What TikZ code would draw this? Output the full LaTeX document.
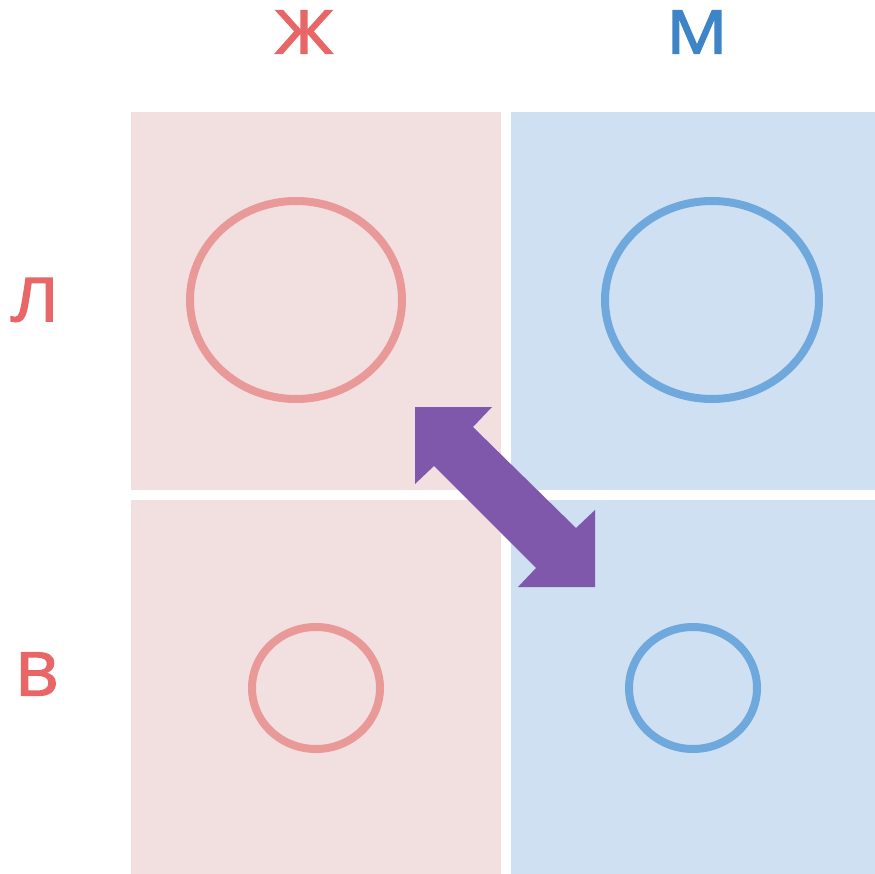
\documentclass[tikz,border=0pt]{standalone}
\usepackage{fontspec}
\setmainfont{Open Sans}
\newfontfamily\lblfont[FakeBold=2.6]{Open Sans}
\definecolor{pinkfill}{HTML}{F2E0E1}
\definecolor{bluefill}{HTML}{CFE0F2}
\definecolor{pinkline}{HTML}{EA9999}
\definecolor{blueline}{HTML}{6FA8DC}
\definecolor{redtext}{HTML}{E86666}
\definecolor{bluetext}{HTML}{3D85C6}
\definecolor{purplearrow}{HTML}{7F58AC}
\tikzset{
  cell/.style={draw=none},
  ring/.style={line width=8pt},
  lbl/.style={font=\lblfont\fontsize{60}{60}\selectfont, inner sep=0pt, anchor=center, xscale=1.12},
}
\begin{document}
\begin{tikzpicture}[x=1pt,y=-1pt]
\useasboundingbox (0,0) rectangle (875,874);
\fill[white] (0,0) rectangle (875,874);
% cells
\fill[pinkfill] (131,112) rectangle (501,490);
\fill[bluefill] (511,112) rectangle (875,490);
\fill[pinkfill] (131,500) rectangle (501,874);
\fill[bluefill] (511,500) rectangle (875,874);
% ellipses
\draw[ring, pinkline] (296,300) ellipse [x radius=106, y radius=99];
\draw[ring, blueline] (712,300) ellipse [x radius=107, y radius=99];
\draw[ring, pinkline] (316,688) ellipse [x radius=64, y radius=61];
\draw[ring, blueline] (693,688) ellipse [x radius=64, y radius=61];
% arrow
\fill[purplearrow] (415,407) -- (492,407) -- (473,427) -- (576,528) -- (595,510) -- (595,587) -- (518,587) -- (536,568) -- (434,466) -- (415,484) -- cycle;
% labels
\node[lbl, text=redtext] (zh) at (304,32) {Ж};
\node[lbl, text=bluetext] (m) at (697,32) {М};
\node[lbl, text=redtext] (l) at (35,300) {Л};
\node[lbl, text=redtext] (v) at (37,674) {В};
\end{tikzpicture}
\end{document}
